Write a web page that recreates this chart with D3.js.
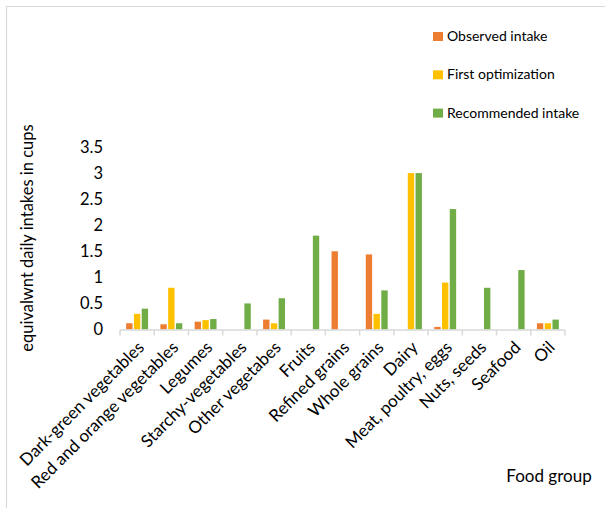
<!DOCTYPE html>
<html>
<head>
<meta charset="utf-8">
<script src="https://cdn.jsdelivr.net/npm/d3@7"></script>
<style>
  html, body { margin: 0; padding: 0; background: #fff; }
  svg { display: block; font-family: Lato, "Noto Sans", sans-serif; }
</style>
</head>
<body>
<svg id="chart" width="605" height="508"></svg>
<script>
// Food groups along the x axis
const categories = [
  "Dark-green vegetables", "Red and orange vegetables", "Legumes",
  "Starchy-vegetables", "Other vegetabes", "Fruits", "Refined grains",
  "Whole grains", "Dairy", "Meat, poultry, eggs", "Nuts, seeds", "Seafood", "Oil"
];

// Daily intakes (cup equivalents) for each series
const observed    = [0.12, 0.10, 0.15, 0, 0.19, 0, 1.50, 1.44, 0, 0.05, 0, 0, 0.12];
const firstOpt    = [0.30, 0.80, 0.18, 0, 0.12, 0, 0, 0.30, 3.00, 0.90, 0, 0, 0.12];
const recommended = [0.40, 0.12, 0.20, 0.50, 0.60, 1.80, 0, 0.75, 3.00, 2.31, 0.80, 1.14, 0.19];

const seriesNames  = ["Observed intake", "First optimization", "Recommended intake"];
const seriesValues = [observed, firstOpt, recommended];
const yTicks = [0, 0.5, 1, 1.5, 2, 2.5, 3, 3.5];

const colors = ["#ED7D31", "#FFC000", "#70AD47"];
const svg = d3.select("#chart");

// Outer chart frame (left and top edges fall inside the view)
svg.append("path")
  .attr("d", "M6.5,508 V6.5 H605")
  .attr("fill", "none")
  .attr("stroke", "#d9d9d9")
  .attr("stroke-width", 1.2);

const plot = { left: 120, right: 565, top: 147, bottom: 329.5 };

const x0 = d3.scaleBand()
  .domain(categories)
  .range([plot.left, plot.right])
  .paddingInner(0.36)
  .paddingOuter(0.18);

const x1 = d3.scaleBand()
  .domain(d3.range(seriesNames.length))
  .range([0, x0.bandwidth()])
  .paddingInner(0.18);

const y = d3.scaleLinear()
  .domain([0, 3.5])
  .range([plot.bottom, plot.top]);

// Bars
const rows = categories.map((c, i) => ({
  cat: c,
  vals: seriesValues.map((s, k) => ({ k, v: s[i] }))
}));

const groups = svg.append("g")
  .selectAll("g")
  .data(rows)
  .join("g")
  .attr("transform", d => `translate(${x0(d.cat)},0)`);

groups.selectAll("rect")
  .data(d => d.vals)
  .join("rect")
  .attr("x", d => x1(d.k))
  .attr("width", x1.bandwidth())
  .attr("y", d => y(d.v))
  .attr("height", d => y(0) - y(d.v))
  .attr("fill", d => colors[d.k]);

// X axis line with category boundary ticks
const step = x0.step();
const xAxis = svg.append("g");
xAxis.append("line")
  .attr("x1", plot.left).attr("x2", plot.right)
  .attr("y1", plot.bottom + 0.5).attr("y2", plot.bottom + 0.5)
  .attr("stroke", "#d9d9d9").attr("stroke-width", 1.5);
xAxis.selectAll("line.tick")
  .data(d3.range(categories.length + 1))
  .join("line")
  .attr("class", "tick")
  .attr("x1", i => plot.left + i * step)
  .attr("x2", i => plot.left + i * step)
  .attr("y1", plot.bottom + 0.5)
  .attr("y2", plot.bottom + 6)
  .attr("stroke", "#d9d9d9").attr("stroke-width", 1.5);

// Rotated category labels
xAxis.selectAll("text")
  .data(categories)
  .join("text")
  .attr("transform", c => `translate(${x0(c) + x0.bandwidth() / 2 + 8},${plot.bottom + 19}) rotate(-45)`)
  .attr("text-anchor", "end")
  .attr("font-size", 17)
  .attr("fill", "#000")
  .text(c => c);

// Y axis (labels only)
const yAxis = svg.append("g")
  .attr("transform", `translate(${plot.left},0)`)
  .call(d3.axisLeft(y).tickValues(yTicks).tickSize(0).tickPadding(17).tickFormat(d3.format("~g")));
yAxis.select(".domain").remove();
yAxis.selectAll("text")
  .attr("font-family", "Lato, 'Noto Sans', sans-serif")
  .attr("font-size", 16.5)
  .attr("fill", "#000");

// Axis titles
svg.append("text")
  .attr("transform", "translate(33,238) rotate(-90)")
  .attr("text-anchor", "middle")
  .attr("font-size", 16.5)
  .attr("fill", "#000")
  .text("equivalwnt daily intakes in cups");

svg.append("text")
  .attr("x", 549)
  .attr("y", 482)
  .attr("text-anchor", "middle")
  .attr("font-size", 17)
  .attr("fill", "#000")
  .text("Food group");

// Legend
const legend = svg.append("g")
  .selectAll("g")
  .data(seriesNames)
  .join("g")
  .attr("transform", (d, i) => `translate(433,${32 + i * 38.3})`);
legend.append("rect")
  .attr("width", 10).attr("height", 9)
  .attr("fill", (d, i) => colors[i]);
legend.append("text")
  .attr("x", 14).attr("y", 9)
  .attr("font-size", 14)
  .attr("fill", "#000")
  .text(d => d);
</script>
</body>
</html>
